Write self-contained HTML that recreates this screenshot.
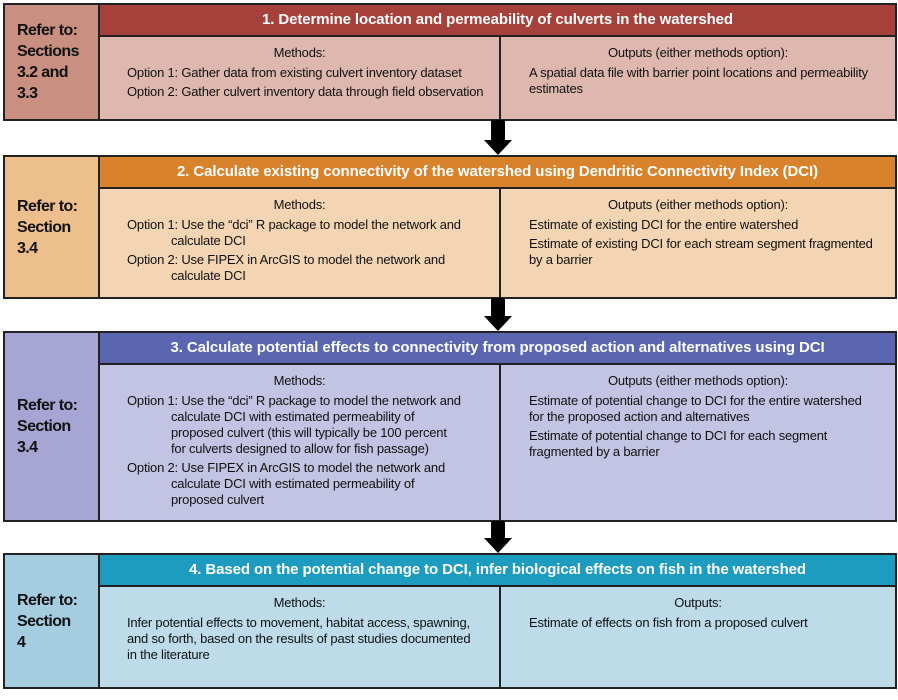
<!DOCTYPE html>
<html><head><meta charset="utf-8"><style>
*{margin:0;padding:0;box-sizing:border-box}
body{width:898px;height:700px;background:#fff;position:relative;font-family:"Liberation Sans Narrow","Liberation Sans",sans-serif;overflow:hidden}
.box{position:absolute;left:3px;width:894px;border:2px solid #222}
.left{position:absolute;left:0;top:0;bottom:0;width:95px;border-right:2px solid #222;font-weight:bold;font-size:16px;letter-spacing:-0.6px;line-height:21px;color:#111;padding-left:12px;display:flex;flex-direction:column;justify-content:center}
.hdr{position:absolute;left:95px;right:0;top:0;height:32px;border-bottom:2px solid #222;color:#fff;font-weight:bold;font-size:15px;letter-spacing:-0.1px;text-align:center;line-height:30px;white-space:nowrap}
.col{position:absolute;top:32px;bottom:0;font-size:13px;letter-spacing:-0.2px;line-height:16px;color:#111;padding-top:8px;white-space:nowrap}
.m{left:95px;width:401px;border-right:2px solid #222;padding-left:27px}
.o{left:496px;right:0;padding-left:28px}
.t{text-align:center;margin-bottom:4px}
.p{margin-bottom:3px}
.ind{padding-left:44px;text-indent:-44px}
.arrow{position:absolute;left:484px;width:28px}
</style></head><body>

<div class="box" style="top:3px;height:118px">
<div class="left" style="background:#c98f80">Refer to:<br>Sections<br>3.2 and<br>3.3</div>
<div class="hdr" style="background:#a5413a">1. Determine location and permeability of culverts in the watershed</div>
<div class="col m" style="background:#deb8ae"><div class="t" style="padding-right:27px">Methods:</div><div class="p">Option 1: Gather data from existing culvert inventory dataset</div><div class="p">Option 2: Gather culvert inventory data through field observation</div></div>
<div class="col o" style="background:#deb8ae"><div class="t" style="padding-right:28px">Outputs (either methods option):</div><div class="p">A spatial data file with barrier point locations and permeability<br>estimates</div></div>
</div>

<svg class="arrow" style="top:120px" width="28" height="36"><rect x="7" y="0" width="14" height="21" fill="#000"/><polygon points="0,20 28,20 14,35" fill="#000"/></svg>

<div class="box" style="top:155px;height:144px">
<div class="left" style="background:#ecbf8c">Refer to:<br>Section<br>3.4</div>
<div class="hdr" style="background:#d8832b">2. Calculate existing connectivity of the watershed using Dendritic Connectivity Index (DCI)</div>
<div class="col m" style="background:#f4d5b3"><div class="t" style="padding-right:27px">Methods:</div><div class="p ind">Option 1: Use the “dci” R package to model the network and<br>calculate DCI</div><div class="p ind">Option 2: Use FIPEX in ArcGIS to model the network and<br>calculate DCI</div></div>
<div class="col o" style="background:#f4d5b3"><div class="t" style="padding-right:28px">Outputs (either methods option):</div><div class="p">Estimate of existing DCI for the entire watershed</div><div class="p">Estimate of existing DCI for each stream segment fragmented<br>by a barrier</div></div>
</div>

<svg class="arrow" style="top:298px" width="28" height="34"><rect x="7" y="0" width="14" height="19" fill="#000"/><polygon points="0,18 28,18 14,33" fill="#000"/></svg>

<div class="box" style="top:331px;height:191px">
<div class="left" style="background:#a7a5d4">Refer to:<br>Section<br>3.4</div>
<div class="hdr" style="background:#5a66b0">3. Calculate potential effects to connectivity from proposed action and alternatives using DCI</div>
<div class="col m" style="background:#c3c3e3"><div class="t" style="padding-right:27px">Methods:</div><div class="p ind">Option 1: Use the “dci” R package to model the network and<br>calculate DCI with estimated permeability of<br>proposed culvert (this will typically be 100 percent<br>for culverts designed to allow for fish passage)</div><div class="p ind">Option 2: Use FIPEX in ArcGIS to model the network and<br>calculate DCI with estimated permeability of<br>proposed culvert</div></div>
<div class="col o" style="background:#c3c3e3"><div class="t" style="padding-right:28px">Outputs (either methods option):</div><div class="p">Estimate of potential change to DCI for the entire watershed<br>for the proposed action and alternatives</div><div class="p">Estimate of potential change to DCI for each segment<br>fragmented by a barrier</div></div>
</div>

<svg class="arrow" style="top:521px" width="28" height="33"><rect x="7" y="0" width="14" height="18" fill="#000"/><polygon points="0,17 28,17 14,32" fill="#000"/></svg>

<div class="box" style="top:553px;height:136px">
<div class="left" style="background:#a4cde0">Refer to:<br>Section<br>4</div>
<div class="hdr" style="background:#1d9cc0">4. Based on the potential change to DCI, infer biological effects on fish in the watershed</div>
<div class="col m" style="background:#bedbea"><div class="t" style="padding-right:27px">Methods:</div><div class="p">Infer potential effects to movement, habitat access, spawning,<br>and so forth, based on the results of past studies documented<br>in the literature</div></div>
<div class="col o" style="background:#bedbea"><div class="t" style="padding-right:28px">Outputs:</div><div class="p">Estimate of effects on fish from a proposed culvert</div></div>
</div>

</body></html>
